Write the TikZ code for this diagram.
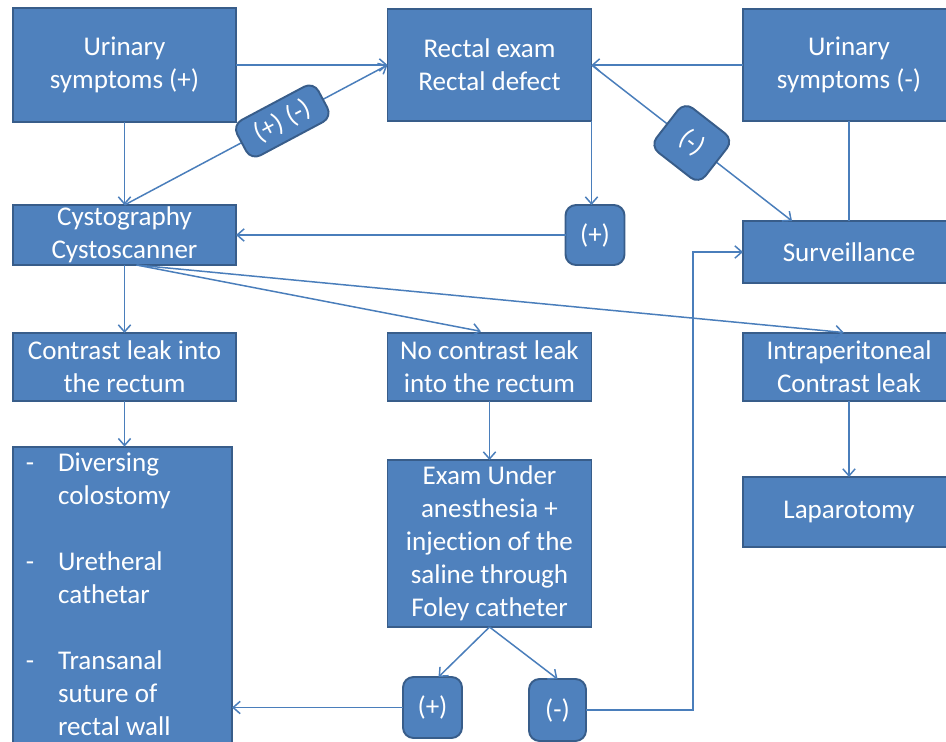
\documentclass[tikz,border=0pt]{standalone}
\usepackage{fontspec}
\setmainfont{Carlito}[Ligatures=NoCommon]
\usetikzlibrary{arrows.meta,calc}

\definecolor{boxblue}{HTML}{4F81BD}
\definecolor{boxedge}{HTML}{385D8A}
\definecolor{linkblue}{HTML}{4A7EBB}
\newcommand{\boxfont}{\fontsize{15.4}{18.8}\selectfont}
\newcommand{\px}[1]{#1*0.02cm}

\tikzset{
  flowbox/.style 2 args={draw=boxedge, fill=boxblue, text=white, font=\boxfont,
    line width=1.1pt, align=center, inner sep=1pt, outer sep=0pt,
    minimum width=\px{#1}, minimum height=\px{#2}},
  tagbox/.style 2 args={flowbox={#1}{#2}, rounded corners=6pt},
  link/.style={draw=linkblue, line width=0.85pt, -{Straight Barb[length=4pt,width=7pt]}},
  plainlink/.style={draw=linkblue, line width=0.85pt},
}

\begin{document}
\begin{tikzpicture}[x=0.02cm, y=-0.02cm]
    % Page frame
    \useasboundingbox (0,0) rectangle (946,741);
    \clip (0,0) rectangle (946,741);

    % Top row
    \node[flowbox={223}{114}] (urinpos) at (124.5,65) {Urinary\\symptoms (+)};
    \node[flowbox={204}{112}] (rectal) at (489.5,65) {Rectal exam\\Rectal defect};
    \node[flowbox={212}{112}] (urinneg) at (849,65) {Urinary\\symptoms (-)};

    % Second row
    \node[flowbox={223}{60}] (cysto) at (124.5,235) {Cystography\\Cystoscanner};
    \node[tagbox={59}{60}] (plusA) at (595,235) {(+)};
    \node[flowbox={212}{62}] (surv) at (849,252) {Surveillance};

    % Third row
    \node[flowbox={223}{68}] (leak) at (124.5,367) {Contrast leak into\\the rectum};
    \node[flowbox={204}{68}] (noleak) at (489.5,367) {No contrast leak\\into the rectum};
    \node[flowbox={212}{68}] (intra) at (849,367) {Intraperitoneal\\Contrast leak};

    % Bottom row
    \node[flowbox={219}{290}, align=left] (divert) at (122.5,597) {%
      \begin{tabular}{@{}p{18.3pt}@{}l@{}}
        - & Diversing\\
          & colostomy\\[18.8pt]
        - & Uretheral\\
          & cathetar\\[18.8pt]
        - & Transanal\\
          & suture of\\
          & rectal wall
      \end{tabular}\hspace*{27.5pt}};
    \node[flowbox={204}{167}] (exam) at (489.5,543.5) {Exam Under\\anesthesia +\\injection of the\\saline through\\Foley catheter};
    \node[flowbox={212}{70}] (lapar) at (849,512) {Laparotomy};
    \node[tagbox={59}{61}] (plusB) at (432.5,707.5) {(+)};
    \node[tagbox={57}{62}] (minusB) at (557.5,710) {(-)};

    % Connectors
    \coordinate (fan) at ($(cysto.south)+(12,0)$);
    \coordinate (riser) at (693,0);
    \coordinate (survin) at ($(surv.north west)+(49,0)$);

    \foreach \a/\b in {urinpos/cysto, cysto/leak, leak/divert, noleak/exam, intra/lapar}
      \draw[link] (\a.south) -- (\a.south |- \b.north);
    \draw[link] (urinpos.east) -- (rectal.west);
    \draw[link] (urinneg.west) -- (rectal.east);
    \draw[plainlink] (urinneg.south) -- (surv.north);
    \draw[link] (rectal.south east) -- (rectal.south east |- plusA.north);
    \draw[link] (plusA.west) -- (cysto.east);
    \draw[link, shorten >=5pt] (fan) -- (noleak.north);
    \draw[link, shorten >=3pt] (fan) -- (intra.north);
    \draw[link] (exam.south) -- ($(plusB.north)+(6,0)$);
    \draw[link] (exam.south) -- (minusB.north);
    \draw[link] (plusB.west) -- (plusB.west -| divert.east);
    \draw[link] (minusB.east) -| (riser |- surv.west) -- (surv.west);

    % Tags on the diagonals
    \draw[link] (cysto.north) -- (rectal.west)
      node[tagbox={92}{40}, sloped, pos=0.6] (tagboth) {(+) (-)};
    \draw[link] (rectal.east) -- (survin)
      node[tagbox={62}{56}, sloped, midway] (tagneg) {(-)};
\end{tikzpicture}
\end{document}
